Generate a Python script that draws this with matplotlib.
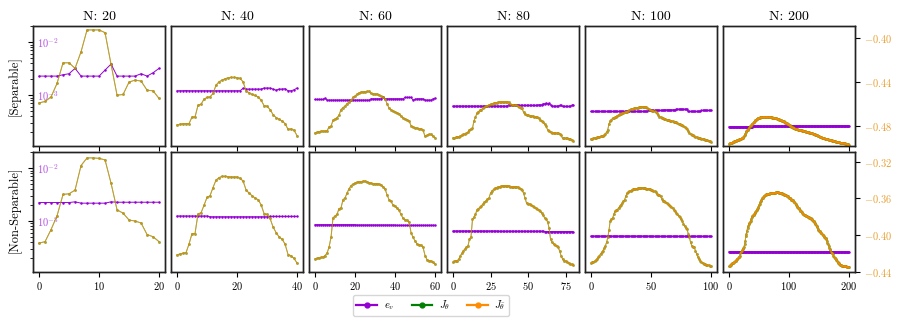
import numpy as np
import matplotlib
matplotlib.use('Agg')
import matplotlib.pyplot as plt
from matplotlib.ticker import FixedLocator, FuncFormatter, NullFormatter
from matplotlib.lines import Line2D

plt.rcParams['font.family'] = 'serif'
plt.rcParams['font.serif'] = ['cmr10']
plt.rcParams['mathtext.fontset'] = 'cm'
plt.rcParams['axes.formatter.use_mathtext'] = True

# ---------------- data ----------------
Ns = [20, 40, 60, 80, 100, 200]
titles = ['N: 20', 'N: 40', 'N: 60', 'N: 80', 'N: 100', 'N: 200']
row_labels = ['[Separable]', '[Non-Separable]']
xticks = [[0, 10, 20], [0, 20, 40], [0, 20, 40, 60], [0, 25, 50, 75], [0, 50, 100], [0, 100, 200]]
legend_labels = [r'$e_v$', r'$J_\theta$', r'$J_{\bar{\theta}}$']
J_ticks = [[-0.40, -0.44, -0.48], [-0.32, -0.36, -0.40, -0.44]]

# e_v values are given in units of 1e-4
sep_ev_20 = [22.9, 22.9, 22.9, 22.9, 24.3, 25.4, 32.1, 22.9, 22.9, 22.9, 22.9, 29.8, 38.7, 22.9, 22.9, 22.9, 22.9, 25.4, 22.9, 26.5, 32.1]
sep_J_20 = [-.4589, -.4576, -.4535, -.4413, -.4227, -.4227, -.4277, -.4127, -.3930, -.3930, -.3930, -.3955, -.4241, -.4519, -.4513, -.4401, -.4383, -.4392, -.4474, -.4480, -.4549]

sep_ev_40 = [12.1, 12.1, 12.1, 12.2, 12.1, 12.1, 12.1, 12.1, 12.1, 12.1,
             12.1, 12.1, 12.1, 12.1, 12.1, 12.1, 12.1, 12.1, 12.1, 12.1,
             12.1, 12.1, 13.4, 13.0, 13.0, 13.0, 13.0, 13.0, 13.0, 13.6,
             13.6, 13.6, 13.0, 12.4, 13.0, 13.0, 13.2, 12.1, 12.1, 12.6,
             13.6]
sep_J_40 = [-.4788, -.4782, -.4776, -.4776, -.4776, -.4716, -.4716, -.4610, -.4601, -.4555,
            -.4540, -.4534, -.4504, -.4429, -.4398, -.4383, -.4371, -.4362, -.4359, -.4359,
            -.4362, -.4368, -.4398, -.4480, -.4498, -.4513, -.4522, -.4534, -.4564, -.4613,
            -.4619, -.4649, -.4694, -.4721, -.4737, -.4752, -.4776, -.4827, -.4824, -.4836,
            -.4885]

sep_ev_60 = [8.28, 8.28, 8.28, 8.28, 8.28, 8.77, 8.04, 8.04, 8.04, 8.04,
             8.04, 8.04, 8.04, 8.04, 8.04, 8.04, 8.04, 8.04, 8.04, 8.04,
             8.04, 8.04, 8.04, 8.04, 8.04, 8.04, 8.04, 8.04, 8.52, 8.52,
             8.52, 8.52, 8.52, 8.52, 9.03, 8.52, 8.52, 8.52, 8.52, 8.52,
             8.52, 8.52, 8.52, 8.52, 8.52, 9.03, 9.03, 9.03, 9.03, 8.04,
             8.28, 8.52, 8.52, 8.52, 8.52, 8.04, 8.04, 8.04, 8.04, 8.52,
             8.77]
sep_J_60 = [-.4860, -.4854, -.4848, -.4845, -.4845, -.4845, -.4842, -.4806, -.4800, -.4746,
            -.4734, -.4722, -.4700, -.4649, -.4631, -.4619, -.4595, -.4583, -.4565, -.4540,
            -.4528, -.4510, -.4498, -.4492, -.4489, -.4489, -.4486, -.4486, -.4504, -.4507,
            -.4510, -.4510, -.4516, -.4528, -.4540, -.4552, -.4595, -.4637, -.4649, -.4661,
            -.4670, -.4679, -.4685, -.4709, -.4725, -.4734, -.4740, -.4752, -.4794, -.4806,
            -.4812, -.4818, -.4821, -.4824, -.4837, -.4891, -.4882, -.4873, -.4873, -.4891,
            -.4903]

sep_ev_80 = [6.18, 6.18, 6.18, 6.18, 6.18, 6.18, 6.18, 6.18, 6.18, 6.18,
             6.18, 6.18, 6.18, 6.18, 6.18, 6.18, 6.18, 6.18, 6.18, 6.18,
             6.18, 6.18, 6.18, 6.18, 6.18, 6.18, 6.18, 6.18, 6.18, 6.18,
             6.18, 6.18, 6.18, 6.18, 6.18, 6.18, 6.18, 6.55, 6.55, 6.55,
             6.55, 6.55, 6.55, 6.55, 6.37, 6.37, 6.37, 6.37, 6.37, 6.37,
             6.37, 6.37, 6.37, 6.37, 6.37, 6.37, 6.37, 6.55, 6.55, 6.55,
             6.85, 6.85, 7.05, 6.85, 7.05, 6.55, 6.18, 6.18, 6.18, 6.18,
             6.18, 6.37, 6.37, 6.10, 6.10, 6.10, 6.10, 6.10, 6.10, 6.37,
             6.55]
sep_J_80 = [-.4906, -.4903, -.4900, -.4897, -.4894, -.4885, -.4879, -.4873, -.4870, -.4864,
            -.4854, -.4830, -.4824, -.4818, -.4749, -.4719, -.4679, -.4667, -.4655, -.4649,
            -.4637, -.4628, -.4619, -.4613, -.4607, -.4601, -.4595, -.4592, -.4589, -.4586,
            -.4583, -.4580, -.4577, -.4577, -.4577, -.4577, -.4577, -.4583, -.4601, -.4604,
            -.4604, -.4607, -.4607, -.4613, -.4625, -.4631, -.4637, -.4673, -.4691, -.4697,
            -.4700, -.4703, -.4706, -.4709, -.4712, -.4715, -.4719, -.4728, -.4740, -.4752,
            -.4764, -.4779, -.4800, -.4830, -.4842, -.4854, -.4857, -.4860, -.4860, -.4864,
            -.4864, -.4866, -.4879, -.4909, -.4909, -.4909, -.4909, -.4912, -.4915, -.4921,
            -.4933]

sep_ev_100 = [4.90, 4.90, 4.90, 4.90, 4.90, 4.90, 4.90, 4.90, 4.90, 4.90,
              4.90, 4.90, 4.90, 4.90, 4.90, 4.90, 4.90, 4.90, 4.90, 4.90,
              4.90, 4.90, 4.90, 4.90, 4.90, 4.90, 4.90, 4.90, 4.90, 4.90,
              4.90, 4.90, 4.90, 4.90, 4.90, 4.90, 4.90, 4.90, 4.90, 4.90,
              4.90, 4.90, 4.90, 4.90, 4.90, 4.90, 4.90, 4.90, 5.12, 5.12,
              5.12, 5.12, 5.12, 5.12, 5.12, 5.12, 5.12, 5.12, 5.12, 5.12,
              5.12, 5.27, 5.27, 5.27, 5.27, 5.27, 5.27, 5.27, 5.27, 5.27,
              5.27, 5.40, 5.40, 5.40, 5.40, 5.40, 5.40, 5.40, 5.40, 5.40,
              5.40, 4.90, 4.90, 4.90, 4.90, 4.90, 4.90, 4.90, 4.90, 4.90,
              4.90, 4.90, 5.12, 5.12, 5.12, 5.12, 5.12, 5.12, 5.12, 5.12,
              5.12]
sep_J_100 = [-.4915, -.4912, -.4909, -.4906, -.4903, -.4900, -.4897, -.4894, -.4891, -.4888,
             -.4885, -.4879, -.4866, -.4854, -.4830, -.4779, -.4749, -.4740, -.4728, -.4722,
             -.4719, -.4712, -.4703, -.4697, -.4688, -.4685, -.4679, -.4676, -.4673, -.4670,
             -.4667, -.4661, -.4652, -.4646, -.4643, -.4640, -.4637, -.4634, -.4631, -.4631,
             -.4628, -.4628, -.4625, -.4625, -.4625, -.4625, -.4628, -.4631, -.4643, -.4649,
             -.4655, -.4658, -.4661, -.4664, -.4667, -.4679, -.4697, -.4712, -.4719, -.4724,
             -.4728, -.4731, -.4734, -.4740, -.4743, -.4746, -.4749, -.4752, -.4755, -.4758,
             -.4761, -.4764, -.4770, -.4776, -.4779, -.4785, -.4791, -.4797, -.4803, -.4812,
             -.4824, -.4842, -.4860, -.4870, -.4876, -.4882, -.4888, -.4894, -.4900, -.4903,
             -.4906, -.4909, -.4912, -.4915, -.4918, -.4921, -.4924, -.4927, -.4930, -.4933,
             -.4939]

sep_ev_200 = [2.51, 2.51, 2.51, 2.51, 2.51, 2.51, 2.51, 2.51, 2.51, 2.51, 2.51, 2.51, 2.51, 2.51, 2.51, 2.51, 2.51, 2.51, 2.51, 2.51,
              2.51, 2.51, 2.51, 2.51, 2.51, 2.51, 2.51, 2.51, 2.51, 2.51, 2.51, 2.51, 2.51, 2.51, 2.51, 2.51, 2.51, 2.51, 2.51, 2.51,
              2.55, 2.55, 2.55, 2.55, 2.55, 2.55, 2.55, 2.55, 2.55, 2.55, 2.55, 2.55, 2.55, 2.55, 2.55, 2.55, 2.55, 2.55, 2.55, 2.55,
              2.55, 2.55, 2.55, 2.55, 2.55, 2.55, 2.55, 2.55, 2.55, 2.55, 2.55, 2.55, 2.55, 2.55, 2.55, 2.55, 2.55, 2.55, 2.55, 2.55,
              2.55, 2.55, 2.55, 2.55, 2.55, 2.55, 2.55, 2.55, 2.55, 2.55, 2.55, 2.55, 2.55, 2.55, 2.55, 2.55, 2.55, 2.55, 2.55, 2.55,
              2.58, 2.58, 2.58, 2.58, 2.58, 2.58, 2.58, 2.58, 2.58, 2.58, 2.58, 2.58, 2.58, 2.58, 2.58, 2.58, 2.58, 2.58, 2.58, 2.58,
              2.58, 2.58, 2.58, 2.58, 2.58, 2.58, 2.58, 2.58, 2.58, 2.58, 2.58, 2.58, 2.58, 2.58, 2.58, 2.58, 2.58, 2.58, 2.58, 2.58,
              2.58, 2.58, 2.58, 2.58, 2.58, 2.58, 2.58, 2.58, 2.58, 2.58, 2.58, 2.58, 2.58, 2.58, 2.58, 2.58, 2.58, 2.58, 2.58, 2.58,
              2.58, 2.58, 2.58, 2.58, 2.58, 2.58, 2.58, 2.58, 2.58, 2.58, 2.62, 2.62, 2.62, 2.62, 2.62, 2.62, 2.62, 2.62, 2.62, 2.62,
              2.62, 2.62, 2.62, 2.62, 2.62, 2.62, 2.62, 2.62, 2.62, 2.62, 2.62, 2.62, 2.62, 2.62, 2.62, 2.62, 2.62, 2.62, 2.62, 2.62,
              2.62]
sep_J_200 = [-.4956, -.4955, -.4953, -.4950, -.4949, -.4947, -.4944, -.4941, -.4938, -.4935,
             -.4932, -.4931, -.4929, -.4926, -.4923, -.4922, -.4920, -.4917, -.4916, -.4914,
             -.4911, -.4908, -.4905, -.4902, -.4896, -.4890, -.4878, -.4866, -.4854, -.4845,
             -.4836, -.4830, -.4824, -.4818, -.4809, -.4800, -.4794, -.4787, -.4781, -.4775,
             -.4769, -.4763, -.4757, -.4751, -.4745, -.4739, -.4736, -.4730, -.4727, -.4724,
             -.4721, -.4721, -.4720, -.4718, -.4718, -.4718, -.4717, -.4715, -.4715, -.4715,
             -.4715, -.4715, -.4715, -.4715, -.4717, -.4717, -.4718, -.4718, -.4718, -.4718,
             -.4718, -.4720, -.4721, -.4721, -.4723, -.4724, -.4724, -.4727, -.4727, -.4729,
             -.4730, -.4733, -.4735, -.4736, -.4739, -.4741, -.4742, -.4745, -.4748, -.4750,
             -.4751, -.4754, -.4757, -.4763, -.4766, -.4769, -.4772, -.4775, -.4778, -.4781,
             -.4784, -.4787, -.4794, -.4797, -.4803, -.4806, -.4809, -.4812, -.4815, -.4818,
             -.4821, -.4823, -.4824, -.4827, -.4829, -.4830, -.4832, -.4833, -.4833, -.4835,
             -.4836, -.4838, -.4839, -.4841, -.4842, -.4844, -.4845, -.4847, -.4848, -.4850,
             -.4851, -.4853, -.4854, -.4856, -.4857, -.4859, -.4860, -.4862, -.4863, -.4865,
             -.4866, -.4869, -.4871, -.4872, -.4875, -.4878, -.4881, -.4883, -.4886, -.4887,
             -.4890, -.4893, -.4895, -.4896, -.4899, -.4902, -.4904, -.4905, -.4908, -.4910,
             -.4911, -.4913, -.4914, -.4916, -.4917, -.4919, -.4920, -.4922, -.4923, -.4925,
             -.4926, -.4928, -.4929, -.4931, -.4932, -.4934, -.4935, -.4937, -.4938, -.4940,
             -.4941, -.4943, -.4944, -.4944, -.4946, -.4947, -.4947, -.4949, -.4950, -.4950,
             -.4950, -.4952, -.4953, -.4955, -.4956, -.4958, -.4959, -.4961, -.4962, -.4964,
             -.4966]

non_ev_20 = [22.3, 22.3, 22.3, 22.3, 22.3, 22.3, 23.0, 21.7, 21.7, 21.7, 21.7, 21.7, 23.0, 22.6, 22.6, 22.6, 22.6, 22.6, 22.6, 22.6, 22.6]
non_J_20 = [-.4088, -.4073, -.3941, -.3791, -.3558, -.3551, -.3511, -.3243, -.3160, -.3160, -.3165, -.3182, -.3436, -.3726, -.3762, -.3837, -.3848, -.3869, -.3995, -.4019, -.4073]

non_ev_40 = [12.4, 12.4, 12.4, 12.4, 12.4, 12.4, 12.4, 12.4, 12.4, 12.4,
             12.4, 12.0, 12.0, 12.0, 12.0, 12.0, 12.0, 12.0, 12.0, 12.0,
             12.0, 12.0, 12.0, 12.0, 12.0, 12.0, 12.0, 12.0, 12.0, 12.0,
             12.0, 12.2, 12.2, 12.2, 12.2, 12.2, 12.2, 12.2, 12.2, 12.2,
             12.2]
non_J_40 = [-.4217, -.4206, -.4199, -.4192, -.4099, -.3984, -.3984, -.3769, -.3759, -.3676,
            -.3590, -.3572, -.3483, -.3401, -.3375, -.3361, -.3361, -.3365, -.3368, -.3368,
            -.3368, -.3383, -.3411, -.3508, -.3544, -.3572, -.3597, -.3615, -.3669, -.3766,
            -.3776, -.3819, -.3912, -.3973, -.4020, -.4045, -.4099, -.4213, -.4227, -.4256,
            -.4306]

non_ev_60 = [8.51, 8.51, 8.51, 8.51, 8.51, 8.51, 8.51, 8.51, 8.51, 8.51,
             8.51, 8.51, 8.51, 8.51, 8.51, 8.51, 8.51, 8.51, 8.51, 8.51,
             8.51, 8.39, 8.39, 8.39, 8.39, 8.39, 8.39, 8.39, 8.39, 8.39,
             8.39, 8.39, 8.39, 8.39, 8.39, 8.39, 8.39, 8.39, 8.39, 8.39,
             8.39, 8.27, 8.27, 8.27, 8.27, 8.27, 8.27, 8.27, 8.27, 8.27,
             8.27, 8.27, 8.27, 8.27, 8.27, 8.27, 8.27, 8.27, 8.27, 8.27,
             8.27]
non_J_60 = [-.4260, -.4256, -.4249, -.4245, -.4242, -.4224, -.4199, -.4134, -.4027, -.3812,
            -.3794, -.3776, -.3712, -.3705, -.3615, -.3597, -.3544, -.3497, -.3461, -.3447,
            -.3433, -.3426, -.3418, -.3418, -.3415, -.3415, -.3418, -.3429, -.3436, -.3440,
            -.3440, -.3440, -.3447, -.3454, -.3472, -.3497, -.3562, -.3615, -.3633, -.3676,
            -.3687, -.3705, -.3733, -.3776, -.3819, -.3834, -.3841, -.3855, -.3973, -.4027,
            -.4063, -.4099, -.4106, -.4113, -.4134, -.4224, -.4270, -.4278, -.4285, -.4299,
            -.4317]

non_ev_80 = [6.45, 6.45, 6.45, 6.45, 6.45, 6.45, 6.45, 6.45, 6.45, 6.45,
             6.45, 6.45, 6.45, 6.45, 6.45, 6.45, 6.45, 6.45, 6.45, 6.45,
             6.45, 6.45, 6.45, 6.45, 6.45, 6.45, 6.45, 6.45, 6.45, 6.45,
             6.45, 6.38, 6.38, 6.38, 6.38, 6.38, 6.38, 6.38, 6.38, 6.38,
             6.38, 6.38, 6.38, 6.38, 6.38, 6.38, 6.38, 6.38, 6.38, 6.38,
             6.38, 6.38, 6.38, 6.38, 6.38, 6.38, 6.38, 6.38, 6.38, 6.38,
             6.38, 6.30, 6.30, 6.30, 6.30, 6.30, 6.30, 6.30, 6.30, 6.30,
             6.30, 6.30, 6.30, 6.30, 6.30, 6.30, 6.30, 6.30, 6.30, 6.30,
             6.30]
non_J_80 = [-.4295, -.4288, -.4281, -.4278, -.4260, -.4224, -.4199, -.4170, -.4152, -.4134,
            -.4117, -.4045, -.4020, -.3830, -.3805, -.3776, -.3723, -.3712, -.3698, -.3680,
            -.3662, -.3644, -.3626, -.3612, -.3597, -.3544, -.3519, -.3504, -.3490, -.3483,
            -.3476, -.3472, -.3469, -.3465, -.3461, -.3461, -.3461, -.3465, -.3472, -.3472,
            -.3472, -.3476, -.3476, -.3479, -.3483, -.3494, -.3508, -.3544, -.3597, -.3651,
            -.3658, -.3662, -.3676, -.3687, -.3698, -.3705, -.3716, -.3726, -.3741, -.3758,
            -.3784, -.3812, -.3830, -.3855, -.3920, -.4045, -.4081, -.4099, -.4106, -.4117,
            -.4134, -.4170, -.4224, -.4260, -.4278, -.4285, -.4295, -.4303, -.4313, -.4321,
            -.4331]

non_ev_100 = [5.16, 5.16, 5.16, 5.16, 5.16, 5.16, 5.16, 5.16, 5.16, 5.16,
              5.16, 5.16, 5.16, 5.16, 5.16, 5.16, 5.16, 5.16, 5.16, 5.16,
              5.16, 5.16, 5.16, 5.16, 5.16, 5.16, 5.16, 5.16, 5.16, 5.16,
              5.16, 5.16, 5.16, 5.16, 5.16, 5.16, 5.16, 5.16, 5.16, 5.16,
              5.16, 5.16, 5.16, 5.16, 5.16, 5.16, 5.16, 5.16, 5.16, 5.16,
              5.12, 5.12, 5.12, 5.12, 5.12, 5.12, 5.12, 5.12, 5.12, 5.12,
              5.12, 5.12, 5.12, 5.12, 5.12, 5.12, 5.12, 5.12, 5.12, 5.12,
              5.12, 5.12, 5.12, 5.12, 5.12, 5.12, 5.12, 5.12, 5.12, 5.12,
              5.12, 5.12, 5.12, 5.12, 5.12, 5.12, 5.12, 5.12, 5.12, 5.12,
              5.12, 5.12, 5.12, 5.12, 5.12, 5.12, 5.12, 5.12, 5.12, 5.12,
              5.12]
non_J_100 = [-.4303, -.4295, -.4292, -.4285, -.4274, -.4260, -.4242, -.4224, -.4206, -.4188,
             -.4170, -.4142, -.4117, -.4081, -.4027, -.3948, -.3848, -.3830, -.3819, -.3776,
             -.3741, -.3733, -.3723, -.3705, -.3687, -.3669, -.3651, -.3633, -.3615, -.3580,
             -.3544, -.3533, -.3526, -.3519, -.3508, -.3501, -.3497, -.3494, -.3494, -.3490,
             -.3490, -.3490, -.3486, -.3486, -.3490, -.3490, -.3494, -.3494, -.3497, -.3501,
             -.3508, -.3515, -.3519, -.3526, -.3537, -.3551, -.3562, -.3569, -.3580, -.3605,
             -.3626, -.3633, -.3644, -.3651, -.3662, -.3676, -.3687, -.3698, -.3705, -.3723,
             -.3741, -.3758, -.3776, -.3791, -.3805, -.3827, -.3848, -.3877, -.3902, -.3920,
             -.3937, -.3984, -.4027, -.4081, -.4117, -.4127, -.4134, -.4170, -.4206, -.4235,
             -.4260, -.4278, -.4295, -.4306, -.4313, -.4321, -.4324, -.4328, -.4331, -.4335,
             -.4338]

non_ev_200 = [2.62, 2.62, 2.62, 2.62, 2.62, 2.62, 2.62, 2.62, 2.62, 2.62, 2.62, 2.62, 2.62, 2.62, 2.62, 2.62, 2.62, 2.62, 2.62, 2.62,
              2.62, 2.62, 2.62, 2.62, 2.62, 2.62, 2.62, 2.62, 2.62, 2.62, 2.62, 2.62, 2.62, 2.62, 2.62, 2.62, 2.62, 2.62, 2.62, 2.62,
              2.62, 2.62, 2.62, 2.62, 2.62, 2.62, 2.62, 2.62, 2.62, 2.62, 2.62, 2.62, 2.62, 2.62, 2.62, 2.62, 2.62, 2.62, 2.62, 2.62,
              2.62, 2.62, 2.62, 2.62, 2.62, 2.62, 2.62, 2.62, 2.62, 2.62, 2.62, 2.62, 2.62, 2.62, 2.62, 2.62, 2.62, 2.62, 2.62, 2.62,
              2.62, 2.62, 2.62, 2.62, 2.62, 2.62, 2.62, 2.62, 2.62, 2.62, 2.62, 2.62, 2.62, 2.62, 2.62, 2.62, 2.62, 2.62, 2.62, 2.62,
              2.60, 2.60, 2.60, 2.60, 2.60, 2.60, 2.60, 2.60, 2.60, 2.60, 2.60, 2.60, 2.60, 2.60, 2.60, 2.60, 2.60, 2.60, 2.60, 2.60,
              2.60, 2.60, 2.60, 2.60, 2.60, 2.60, 2.60, 2.60, 2.60, 2.60, 2.60, 2.60, 2.60, 2.60, 2.60, 2.60, 2.60, 2.60, 2.60, 2.60,
              2.60, 2.60, 2.60, 2.60, 2.60, 2.60, 2.60, 2.60, 2.60, 2.60, 2.60, 2.60, 2.60, 2.60, 2.60, 2.60, 2.60, 2.60, 2.60, 2.60,
              2.60, 2.60, 2.60, 2.60, 2.60, 2.60, 2.60, 2.60, 2.60, 2.60, 2.60, 2.60, 2.60, 2.60, 2.60, 2.60, 2.60, 2.60, 2.60, 2.60,
              2.60, 2.60, 2.60, 2.60, 2.60, 2.60, 2.60, 2.60, 2.60, 2.60, 2.60, 2.60, 2.60, 2.60, 2.60, 2.60, 2.60, 2.60, 2.60, 2.60,
              2.60]
non_J_200 = [-.4342, -.4339, -.4331, -.4324, -.4317, -.4310, -.4306, -.4303, -.4299, -.4295,
             -.4288, -.4281, -.4274, -.4267, -.4260, -.4253, -.4245, -.4238, -.4231, -.4195,
             -.4181, -.4174, -.4167, -.4156, -.4145, -.4131, -.4102, -.4066, -.4013, -.3988,
             -.3952, -.3923, -.3902, -.3880, -.3869, -.3859, -.3844, -.3823, -.3801, -.3791,
             -.3787, -.3780, -.3769, -.3758, -.3748, -.3737, -.3726, -.3719, -.3708, -.3690,
             -.3673, -.3658, -.3644, -.3630, -.3615, -.3601, -.3594, -.3587, -.3579, -.3572,
             -.3565, -.3562, -.3558, -.3556, -.3554, -.3553, -.3551, -.3549, -.3547, -.3547,
             -.3545, -.3544, -.3544, -.3542, -.3540, -.3540, -.3538, -.3538, -.3537, -.3537,
             -.3537, -.3537, -.3537, -.3538, -.3538, -.3540, -.3542, -.3544, -.3547, -.3551,
             -.3554, -.3558, -.3562, -.3565, -.3567, -.3569, -.3572, -.3576, -.3579, -.3587,
             -.3594, -.3597, -.3601, -.3608, -.3615, -.3619, -.3622, -.3630, -.3637, -.3644,
             -.3655, -.3662, -.3673, -.3680, -.3690, -.3701, -.3708, -.3719, -.3730, -.3737,
             -.3744, -.3751, -.3758, -.3766, -.3773, -.3780, -.3784, -.3787, -.3791, -.3794,
             -.3798, -.3801, -.3805, -.3809, -.3812, -.3816, -.3819, -.3827, -.3830, -.3834,
             -.3844, -.3852, -.3859, -.3869, -.3877, -.3887, -.3902, -.3916, -.3930, -.3941,
             -.3952, -.3959, -.3966, -.3973, -.3980, -.3988, -.3995, -.4005, -.4016, -.4023,
             -.4031, -.4038, -.4048, -.4066, -.4084, -.4102, -.4120, -.4138, -.4156, -.4167,
             -.4181, -.4192, -.4199, -.4210, -.4224, -.4238, -.4249, -.4256, -.4263, -.4274,
             -.4281, -.4292, -.4303, -.4310, -.4317, -.4324, -.4328, -.4331, -.4335, -.4337,
             -.4339, -.4339, -.4340, -.4340, -.4342, -.4342, -.4344, -.4346, -.4347, -.4349,
             -.4353]

ev_rows = [[sep_ev_20, sep_ev_40, sep_ev_60, sep_ev_80, sep_ev_100, sep_ev_200],
           [non_ev_20, non_ev_40, non_ev_60, non_ev_80, non_ev_100, non_ev_200]]
J_rows = [[sep_J_20, sep_J_40, sep_J_60, sep_J_80, sep_J_100, sep_J_200],
          [non_J_20, non_J_40, non_J_60, non_J_80, non_J_100, non_J_200]]

# ---------------- style ----------------
PURPLE = 'darkviolet'
GREEN = 'green'
ORANGE = 'darkorange'
EV_LABEL = '#b150e2'
J_LABEL = '#e8a033'
ev_ylim = (10 ** -3.97, 10 ** -1.69)
J_ylims = [(-0.4981, -0.3894), (-0.4405, -0.3093)]

fig = plt.figure(figsize=(9, 3.24), dpi=100)
gs = fig.add_gridspec(2, 6, left=0.0367, right=0.95, top=0.92, bottom=0.16,
                      wspace=0.045, hspace=0.045)

for r in range(2):
    for c in range(6):
        N = Ns[c]
        ax = fig.add_subplot(gs[r, c])
        ax2 = ax.twinx()
        ev = np.array(ev_rows[r][c]) * 1e-4
        J = np.array(J_rows[r][c])
        ax.plot(np.arange(len(ev)), ev, color=PURPLE, lw=0.7, marker='o', ms=1.8, mew=0)
        ax.set_yscale('log')
        ax.set_ylim(*ev_ylim)
        xJ = np.arange(len(J))
        ax2.plot(xJ, J, color=GREEN, lw=0.7, marker='o', ms=2.0, mew=0, alpha=0.6)
        ax2.plot(xJ, J, color=ORANGE, lw=0.7, marker='o', ms=1.7, mew=0, alpha=0.65)
        ax2.set_ylim(*J_ylims[r])
        ax.set_xlim(-0.05 * N, 1.05 * N)
        ax.set_xticks(xticks[c])
        ax.tick_params(axis='x', labelsize=7.5, length=3.5, width=0.8, pad=2.5)
        if r == 0:
            ax.tick_params(axis='x', labelbottom=False)
            ax.set_title(titles[c], fontsize=10, pad=4)
        for a in (ax, ax2):
            for s in a.spines.values():
                s.set_linewidth(1.0)
                s.set_color('#222222')
        if c == 0:
            ax.yaxis.set_major_locator(FixedLocator([1e-3, 1e-2]))
            ax.yaxis.set_major_formatter(FuncFormatter(lambda v, p: r'$10^{%d}$' % int(round(np.log10(v)))))
            ax.yaxis.set_minor_locator(FixedLocator([k * 10.0 ** e for e in (-4, -3, -2) for k in range(2, 10)]))
            ax.yaxis.set_minor_formatter(NullFormatter())
            ax.tick_params(axis='y', which='major', length=3.5, width=0.8, pad=-6,
                           labelsize=7.5, labelcolor=EV_LABEL)
            ax.tick_params(axis='y', which='minor', length=2, width=0.6)
            for lab in ax.get_yticklabels():
                lab.set_horizontalalignment('left')
        else:
            ax.tick_params(axis='y', which='both', left=False, labelleft=False)
        if c == 5:
            ax2.yaxis.set_major_locator(FixedLocator(J_ticks[r]))
            ax2.yaxis.set_major_formatter(FuncFormatter(lambda v, p: r'$%.2f$' % v))
            ax2.tick_params(axis='y', length=3.5, width=0.8, labelsize=7.5, labelcolor=J_LABEL, pad=3)
        else:
            ax2.tick_params(axis='y', which='both', right=False, labelright=False)

fig.text(0.0167, 0.735, row_labels[0], rotation=90, ha='center', va='center', fontsize=9)
fig.text(0.0167, 0.352, row_labels[1], rotation=90, ha='center', va='center', fontsize=9)

handles = [Line2D([], [], color=PURPLE, lw=1.6, marker='o', ms=3.5),
           Line2D([], [], color=GREEN, lw=1.6, marker='o', ms=3.5),
           Line2D([], [], color=ORANGE, lw=1.6, marker='o', ms=3.5)]
fig.legend(handles, legend_labels, loc='center', bbox_to_anchor=(0.479, 0.058), ncol=3,
           fontsize=7.5, handlelength=2.0, columnspacing=1.7, handletextpad=0.6,
           borderpad=0.35, frameon=True)

fig.savefig('out.png', dpi=100)
